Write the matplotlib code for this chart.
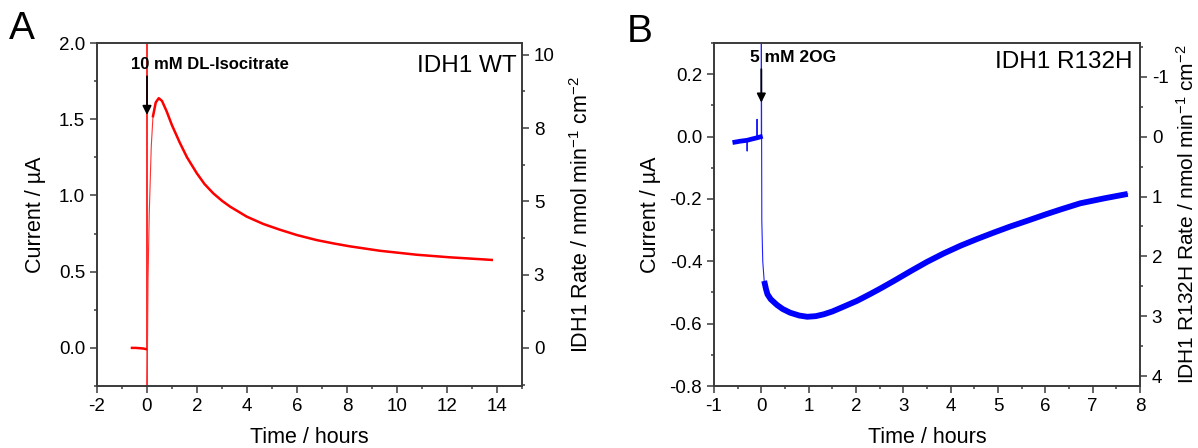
import math
import numpy as np
import matplotlib
matplotlib.use("Agg")
import matplotlib.pyplot as plt
from matplotlib.ticker import MultipleLocator, FuncFormatter, FormatStrFormatter

plt.rcParams['font.family'] = ['Liberation Sans', 'DejaVu Sans']
plt.rcParams['mathtext.fontset'] = 'custom'
plt.rcParams['mathtext.rm'] = 'Liberation Sans'
plt.rcParams['mathtext.it'] = 'Liberation Sans:italic'
plt.rcParams['axes.unicode_minus'] = False

# Panel A: IDH1 WT, injection of 10 mM DL-isocitrate at t = 0
a_t = [-0.6, -0.45, -0.3, -0.15, -0.04, 0.0, 0.0, 0.0, 0.04, 0.09, 0.17, 0.24, 0.35,
       0.47, 0.6, 0.79, 1.0, 1.32, 1.6, 1.99, 2.3, 2.65, 3.0, 3.32, 3.99, 4.65,
       5.32, 6.0, 6.79, 7.5, 8.12, 9.32, 10.79, 12.12, 12.92, 13.79]
a_i = [0.0, 0.0, -0.002, -0.004, -0.008, -0.01, 2.4, -0.4, 0.445, 0.88, 1.32, 1.52, 1.61,
       1.638, 1.62, 1.55, 1.46, 1.343, 1.25, 1.146, 1.075, 1.014, 0.965, 0.927, 0.861, 0.813,
       0.775, 0.740, 0.707, 0.684, 0.666, 0.637, 0.611, 0.594, 0.586, 0.577]

# Panel B: IDH1 R132H, injection of 5 mM 2OG at t = 0
b_t = [-0.56, -0.45, -0.3, -0.3, -0.3, -0.2, -0.09, -0.09, -0.09, -0.02, 0.0, 0.0,
       0.01, 0.03, 0.06, 0.1, 0.13, 0.2, 0.33, 0.45, 0.61, 0.8, 0.97, 1.15, 1.32, 1.5,
       1.67, 2.02, 2.3, 2.52, 2.80, 3.15, 3.50, 3.85, 4.21, 4.55, 4.91, 5.25, 5.62,
       6.0, 6.32, 6.74, 7.25, 7.74]
b_i = [-0.018, -0.015, -0.012, -0.046, -0.012, -0.008, -0.004, 0.055, -0.004, -0.001, 0.0, 0.4,
       -0.27, -0.40, -0.463, -0.49, -0.506, -0.522, -0.54, -0.553, -0.565, -0.574, -0.578, -0.576,
       -0.570, -0.561, -0.550, -0.527, -0.505, -0.487, -0.463, -0.432, -0.402, -0.375, -0.350,
       -0.329, -0.308, -0.289, -0.270, -0.250, -0.234, -0.214, -0.198, -0.184]

# current -> rate conversion (nmol min-1 cm-2 per uA)
k_rate = 5.2

spine_col = '#3a3a3a'


def style_axes(ax, xmaj, xmin, ymaj, ymin):
    ax.xaxis.set_major_locator(MultipleLocator(xmaj))
    ax.xaxis.set_minor_locator(MultipleLocator(xmin))
    ax.yaxis.set_major_locator(MultipleLocator(ymaj))
    ax.yaxis.set_minor_locator(MultipleLocator(ymin))
    ax.yaxis.set_major_formatter(FormatStrFormatter('%.1f'))
    ax.xaxis.set_major_formatter(FuncFormatter(lambda v, p: '%d' % round(v)))
    ax.tick_params(which='both', direction='out', top=False, right=False,
                   color=spine_col, labelsize=13.5, width=1.1)
    ax.tick_params(which='major', length=5)
    ax.tick_params(which='minor', length=2.5)
    for s in ax.spines.values():
        s.set_color(spine_col)
        s.set_linewidth(1.2)
    ax.set_xlabel('Time / hours', fontsize=15.5, labelpad=9)


def style_twin(tw, maj, mnr):
    tw.yaxis.set_major_locator(MultipleLocator(maj))
    tw.yaxis.set_minor_locator(MultipleLocator(mnr))
    tw.tick_params(which='both', direction='out', color=spine_col,
                   labelsize=13.5, width=1.1)
    tw.tick_params(which='major', length=5)
    tw.tick_params(which='minor', length=2.5)
    for s in tw.spines.values():
        s.set_color(spine_col)
        s.set_linewidth(1.2)


fig = plt.figure(figsize=(11.98, 4.48), dpi=100)
axA = fig.add_axes([97 / 1198, 1 - 386 / 448, 425 / 1198, 343 / 448])
axB = fig.add_axes([714 / 1198, 1 - 386 / 448, 426 / 1198, 343 / 448])

# ---- panel A
ta = np.array(a_t)
ia = np.array(a_i)
axA.plot(ta, ia, color='#ff3030', lw=0.8)
axA.plot(ta[ta < 0], ia[ta < 0], color='red', lw=1.8)
axA.plot(ta[ta >= 0.2], ia[ta >= 0.2], color='red', lw=1.8)
axA.set_xlim(-2, 15)
axA.set_ylim(-0.25, 2.0)
style_axes(axA, 2, 1, 0.5, 0.25)
axA.set_ylabel('Current / µA', fontsize=15.5, labelpad=9)
axA.annotate('', xy=(0, 1.51), xytext=(0, 1.80),
             arrowprops=dict(arrowstyle='-|>', color='black', lw=1.3, mutation_scale=13))
axA.text(2.5, 1.86, '10 mM DL-Isocitrate', fontsize=12, fontweight='bold',
         ha='center', va='center')
axA.text(14.8, 1.85, 'IDH1 WT', fontsize=17.5, ha='right', va='center')

twA = axA.twinx()
twA.set_ylim(-0.25 * k_rate, 2.0 * k_rate)
style_twin(twA, 2.5, 1.25)
twA.yaxis.set_major_formatter(FuncFormatter(lambda v, p: '%d' % math.floor(v + 0.5)))
twA.set_ylabel('IDH1 Rate / nmol min$^{-1}$ cm$^{-2}$', fontsize=15.5, labelpad=11)

# ---- panel B
tb = np.array(b_t)
ib = np.array(b_i)
axB.plot(tb, ib, color='#2020ff', lw=0.8)
base = (tb < 0) & (np.abs(ib + 0.009) < 0.015)
axB.plot(tb[base], ib[base], color='blue', lw=3.4)
axB.plot(tb[tb >= 0.06], ib[tb >= 0.06], color='blue', lw=4.2,
         solid_joinstyle='round', solid_capstyle='butt')
axB.set_xlim(-1, 8)
axB.set_ylim(-0.8, 0.3)
style_axes(axB, 1, 0.5, 0.2, 0.1)
axB.set_ylabel('Current / µA', fontsize=15.5, labelpad=6)
axB.annotate('', xy=(0, 0.10), xytext=(0, 0.225),
             arrowprops=dict(arrowstyle='-|>', color='black', lw=1.3, mutation_scale=13))
axB.text(0.68, 0.255, '5 mM 2OG', fontsize=12.5, fontweight='bold',
         ha='center', va='center')
axB.text(7.85, 0.24, 'IDH1 R132H', fontsize=17.5, ha='right', va='center')

twB = axB.twinx()
twB.set_ylim(-(-0.8) * k_rate, -(0.3) * k_rate)
style_twin(twB, 1, 0.5)
twB.yaxis.set_major_formatter(FuncFormatter(lambda v, p: '%d' % round(v)))
twB.set_ylabel('IDH1 R132H Rate / nmol min$^{-1}$ cm$^{-2}$', fontsize=15, labelpad=5)

fig.text(22 / 1198, 1 - 29 / 448, 'A', fontsize=28, ha='center', va='center')
fig.text(640 / 1198, 1 - 32 / 448, 'B', fontsize=28, ha='center', va='center')

fig.savefig('out.png', dpi=100)
